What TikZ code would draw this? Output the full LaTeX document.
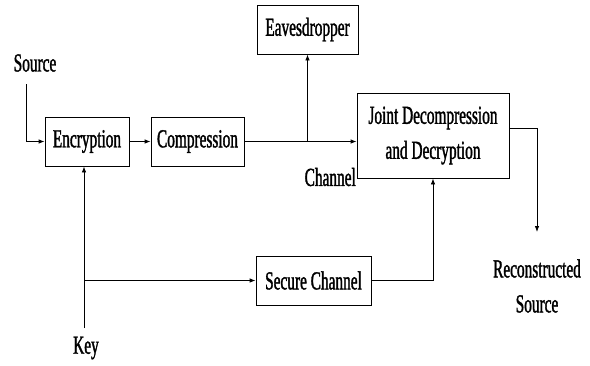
\documentclass[tikz,border=0pt]{standalone}
\usepackage{fontspec}
\setmainfont[FakeStretch=0.59,FakeBold=1.3]{Liberation Serif}
\usetikzlibrary{arrows.meta}
\begin{document}
\begin{tikzpicture}[x=1pt,y=-1pt,
  every node/.style={font=\fontsize{26}{35}\selectfont, inner sep=0pt},
  blk/.style={draw, line width=0.8pt, align=center, minimum height=49pt},
  wire/.style={line width=0.8pt},
  arr/.style={wire, -{Latex[length=6pt,width=4.5pt]}}]
\useasboundingbox (0,0) rectangle (590,365);
\node[blk, minimum width=84pt] (enc) at (87,141.5) {Encryption};
\node[blk, minimum width=93pt] (comp) at (197.5,141.5) {Compression};
\node[blk, minimum width=101pt] (eav) at (307.5,29.5) {Eavesdropper};
\node[blk, minimum width=152pt, minimum height=85pt] (joint) at (433,135.5) {Joint Decompression\\and Decryption};
\node[blk, minimum width=115pt] (sec) at (313.5,280.5) {Secure Channel};
\node (src) at (35,63) {Source};
\node[anchor=east] (chan) at (356,177) {Channel};
\node (key) at (86,348) {Key};
\node[align=center] (rec) at (537,286) {Reconstructed\\Source};
\coordinate (srctop) at (26,84);
\coordinate (keytop) at (84,328);
\coordinate (branch) at (307.5,141.5);
\coordinate (keyjoin) at (84,280.5);
\coordinate (outc) at (537,128);
\coordinate (outend) at (537,232);
\draw[arr] (srctop) |- (enc.west);
\draw[arr] (enc) -- (comp);
\draw[arr] (comp.east) -- (comp.east -| joint.west);
\draw[arr] (branch) -- (eav.south);
\draw[arr] (keytop) -- (enc.south -| keytop);
\draw[arr] (keyjoin) -- (sec.west);
\draw[arr] (sec.east) -| (joint.south);
\draw[wire] (joint.east |- outc) -- (outc);
\draw[arr] (outc) -- (outend);
\end{tikzpicture}
\end{document}
